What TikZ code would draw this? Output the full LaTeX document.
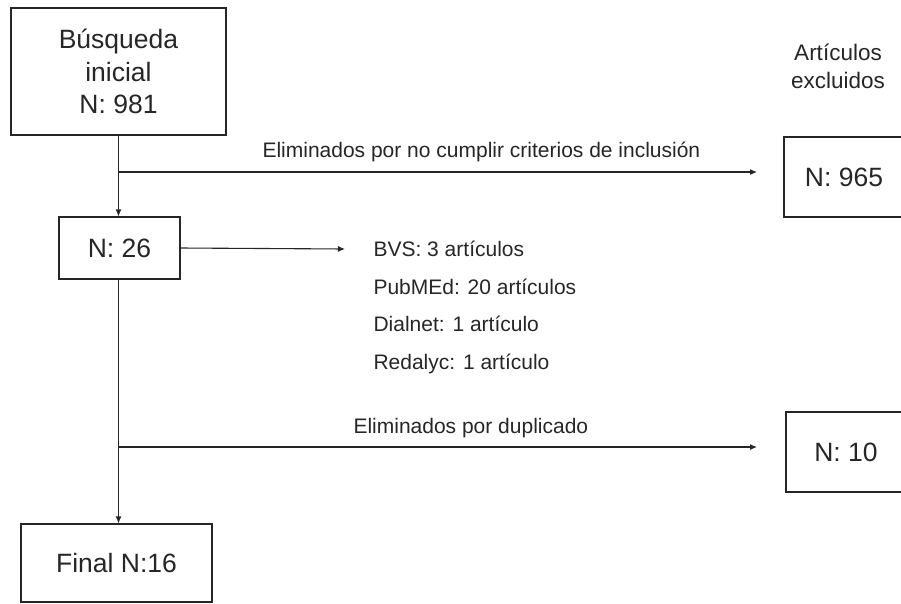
\documentclass[tikz,border=0pt]{standalone}
\usepackage{fontspec}
\setmainfont{Liberation Sans}
\usetikzlibrary{positioning, arrows.meta}
\tikzset{
    x=1pt, y=-1pt, % one unit is one pixel of the sketch, y grows downwards
    >={Latex[length=7pt, width=6pt]}, % small filled heads
    box/.style={draw, rectangle, align=center, inner sep=0pt,
        font=\fontsize{26.5}{32.5}\selectfont}, % the count boxes
    lbl/.style={inner sep=0pt, font=\fontsize{21}{25}\selectfont}, % texts beside the arrows
}

\begin{document}
\begin{tikzpicture}[color=black!85, line width=1.1pt]
    \useasboundingbox (0,0) rectangle (901,603);

    % left column
    \node[box, minimum width=215, minimum height=127] (busq) at (118.5,71.5) {Búsqueda\\inicial\\N: 981};
    \node[box, minimum width=121, minimum height=62] (n26) at (119.5,248) {N: 26};
    \node[box, minimum width=191, minimum height=78] (final) at (116.5,563) {Final N:16};

    % excluded articles
    \node[inner sep=0pt, align=center, font=\fontsize{22.5}{28}\selectfont] (excl) at (838,66) {Artículos\\excluidos};
    \node[box, minimum width=120, minimum height=80] (n965) at (844,177) {N: 965};
    \node[box, minimum width=120, minimum height=80] (n10) at (846,452) {N: 10};

    % labels
    \node[lbl, anchor=base west] (crit) at (262,157) {Eliminados por no cumplir criterios de inclusión};
    \node[lbl, anchor=base west] (dupl) at (353,433) {Eliminados por duplicado};
    \node[lbl, anchor=base west] (bvs) at (373,256.5) {BVS: 3 artículos};
    \node[lbl, anchor=base west] (pubmed) at (373,294) {PubMEd: 20 artículos};
    \node[lbl, anchor=base west] (dialnet) at (373,331.5) {Dialnet: 1 artículo};
    \node[lbl, anchor=base west] (redalyc) at (373,369) {Redalyc: 1 artículo};

    \coordinate (br1) at (busq.south |- 0,172);
    \coordinate (br2) at (busq.south |- 0,447);
    \coordinate (tip1) at (757,172);
    \coordinate (tip2) at (757,447);
    \coordinate (tip3) at (345,249);

    \draw[->] (busq.south) -- (busq.south |- n26.north);
    \draw[->] (br1) -- (tip1);
    \draw[->] (n26.east) -- (tip3);
    \draw[->] (busq.south |- n26.south) -- (busq.south |- final.north);
    \draw[->] (br2) -- (tip2);
\end{tikzpicture}
\end{document}
